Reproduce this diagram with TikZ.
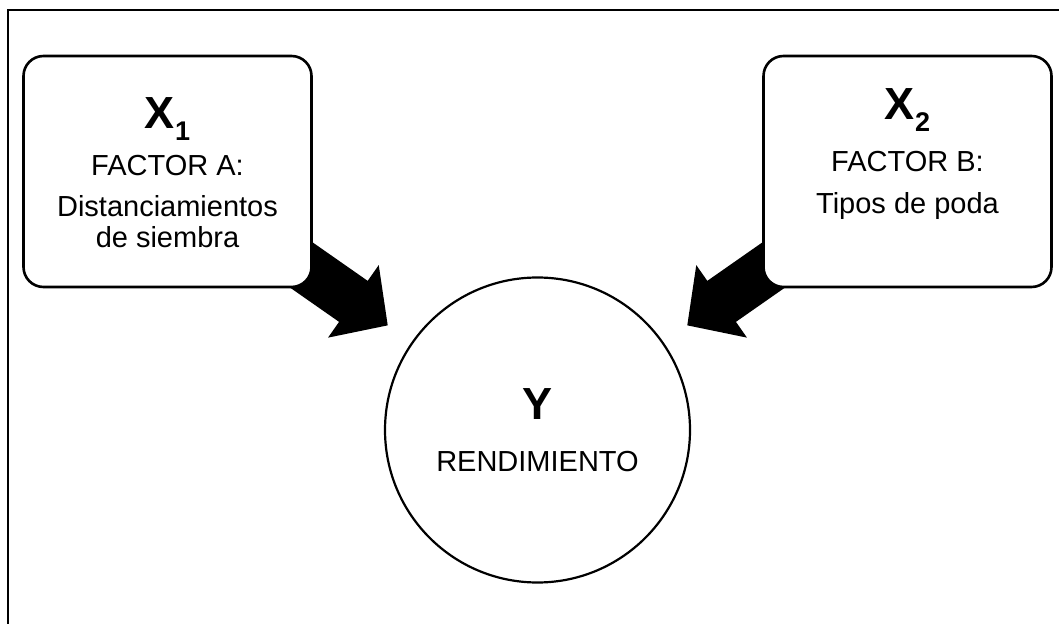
\documentclass[tikz,border=0pt]{standalone}
\usepackage{fontspec}
\setmainfont{Liberation Sans}
\usetikzlibrary{arrows.meta,backgrounds,positioning}

\newcommand{\bigvar}[1]{\raisebox{0pt}[\height][0pt]{\fontsize{22.5}{22.5}\selectfont\bfseries #1}}
\newcommand{\subidx}[1]{\raisebox{-6pt}{\fontsize{13.5}{13.5}\selectfont\bfseries #1}}

\begin{document}
\begin{tikzpicture}[x=0.5pt, y=-0.5pt,
    factor/.style={rectangle, rounded corners=10pt, draw, line width=1.3pt, fill=white, minimum width=144pt, minimum height=115.5pt},
    txt/.style={align=center, inner sep=0pt, font=\fontsize{14.5}{15.5}\selectfont},
    flecha/.style={line width=25pt, -{Triangle[width=43pt, length=21pt]}, shorten >=14.5pt}]
    \useasboundingbox (0, 0) rectangle (1059, 624);
    \draw[line width=1pt] (8, 624) -- (8, 10) -- (1059, 10);

    \node at (167.5, 171.5) [factor] (a) {};
    \node at (907.5, 171.5) [factor] (b) {};
    \node at (537.5, 430) [circle, draw, line width=1.1pt, fill=white, minimum size=152.5pt, txt] (y) {\bigvar{Y}\\[10.5pt]RENDIMIENTO};

    \node [txt, below=21pt of a.north] (atxt) {\bigvar{X\subidx{1}}\\[8pt]FACTOR A:\\[5pt]Distanciamientos\\de siembra};
    \node [txt, below=16.5pt of b.north] (btxt) {\bigvar{X\subidx{2}}\\[10.5pt]FACTOR B:\\[5.5pt]Tipos de poda};

    \begin{scope}[on background layer]
        \draw[flecha] (a.center) -- (y);
        \draw[flecha] (b.center) -- (y);
    \end{scope}
\end{tikzpicture}
\end{document}
